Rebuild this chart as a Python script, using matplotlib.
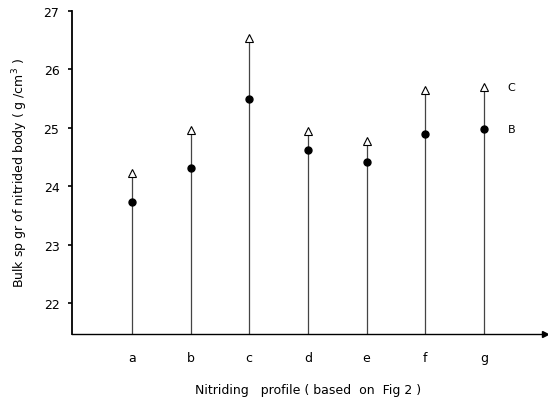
import numpy as np
import matplotlib.pyplot as plt

profiles = ['a', 'b', 'c', 'd', 'e', 'f', 'g']
# bulk specific gravity: B = filled dots, C = open triangles
bulk_B = [23.73, 24.32, 25.50, 24.62, 24.41, 24.89, 24.98]
bulk_C = [24.22, 24.97, 26.53, 24.95, 24.78, 25.65, 25.70]
yticks = [22, 23, 24, 25, 26, 27]

plt.rcParams['font.family'] = 'DejaVu Sans'
plt.rcParams['font.size'] = 9

fig = plt.figure(figsize=(5.48, 4.10), dpi=100)
ax = fig.add_axes([72/548, 75/410, 473/548, 323/410])

x = np.arange(len(profiles))
ax.vlines(x, 21.47, bulk_C, color='#444444', lw=0.9, zorder=1)
ax.plot(x, bulk_B, 'o', color='black', ms=5, zorder=3)
ax.plot(x, bulk_C, '^', mfc='white', mec='black', mew=0.8, ms=5.5, zorder=3)

ax.text(x[-1] + 0.4, bulk_C[-1], 'C', va='center', ha='left', fontsize=8)
ax.text(x[-1] + 0.4, bulk_B[-1], 'B', va='center', ha='left', fontsize=8)

ax.set_xlim(-1.02, 7.04)
ax.set_ylim(21.47, 27.0)
ax.set_xticks(x)
ax.set_xticklabels(profiles)
ax.set_yticks(yticks)
ax.tick_params(axis='x', length=0, pad=12)
ax.tick_params(axis='y', length=3, width=1.2, pad=6)

for side in ('top', 'right'):
    ax.spines[side].set_visible(False)
ax.spines['left'].set_linewidth(1.3)
ax.spines['bottom'].set_linewidth(1.0)
# arrow head at the end of the x axis
ax.plot(1, 0, '>', color='black', ms=4, transform=ax.transAxes, clip_on=False)

ax.set_xlabel('Nitriding   profile ( based  on  Fig 2 )', labelpad=14)
ax.set_ylabel('Bulk sp gr of nitrided body ( g /cm$^3$ )', labelpad=10)

fig.savefig('out.png', dpi=100)
